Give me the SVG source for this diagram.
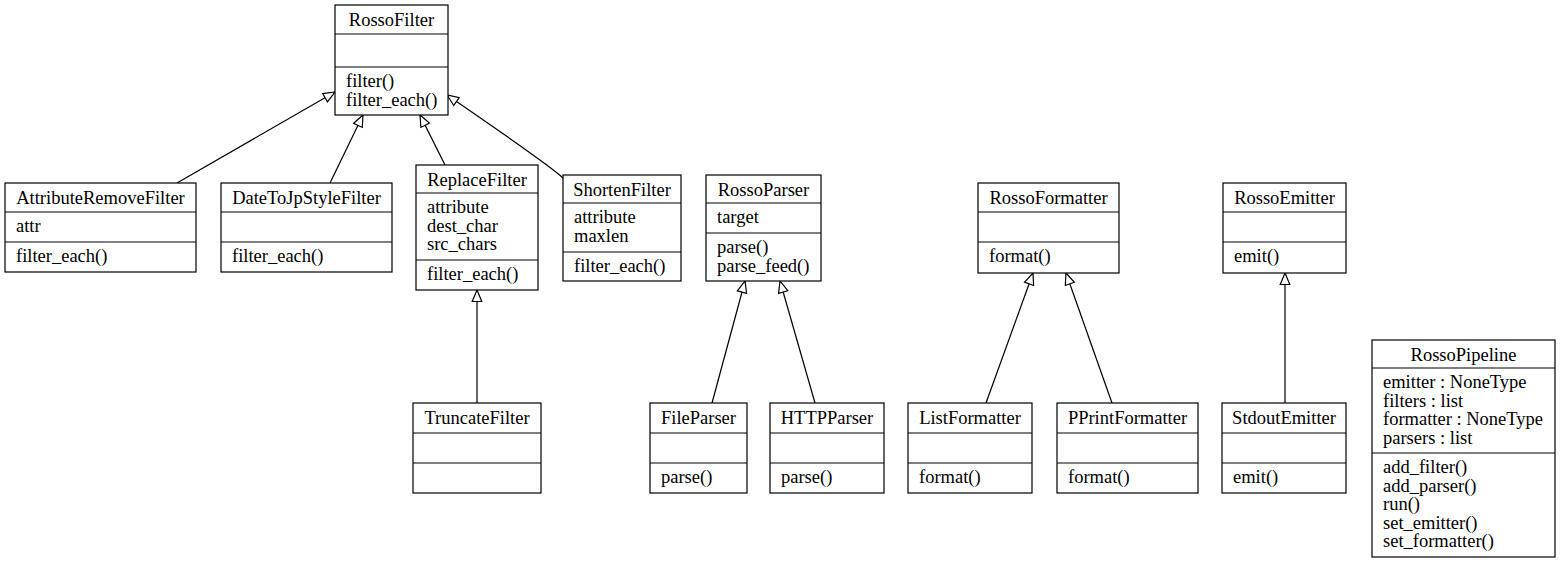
<svg xmlns="http://www.w3.org/2000/svg" width="1560" height="564" viewBox="0 0 1560 564">
<style>
  .box { fill: #ffffff; stroke: #000000; stroke-width: 1.2; }
  .sep { stroke: #000000; stroke-width: 1.2; }
  text { font-family: "Liberation Serif", "Times New Roman", serif; font-size: 18.5px; fill: #000000; }
  .t { text-anchor: middle; }
  .edge { fill: none; stroke: #000000; stroke-width: 1.2; marker-end: url(#inh); }
</style>
<defs>
  <marker id="inh" viewBox="0 -7 14 14" refX="13" refY="0" markerWidth="14" markerHeight="14" markerUnits="userSpaceOnUse" orient="auto">
    <path d="M1.5,-4.8 L13,0 L1.5,4.8 Z" fill="#ffffff" stroke="#000000" stroke-width="1.2"/>
  </marker>
</defs>
<rect width="1560" height="564" fill="#ffffff"/>

<g id="edges">
  <path class="edge" d="M177,183 L335,92"/>
  <path class="edge" d="M330,183 L363,115"/>
  <path class="edge" d="M445,165 L420,115"/>
  <path class="edge" d="M563,178 C553,168 520,145 447,95"/>
  <path class="edge" d="M477,403 L477,290"/>
  <path class="edge" d="M712,403 L745,281"/>
  <path class="edge" d="M815,403 L780,281"/>
  <path class="edge" d="M986,403 L1033,273"/>
  <path class="edge" d="M1112,403 L1066,273"/>
  <path class="edge" d="M1285,403 L1285,273"/>
</g>

<g id="RossoFilter">
  <rect class="box" x="335" y="5" width="113" height="110"/>
  <line class="sep" x1="335" y1="34" x2="448" y2="34"/>
  <line class="sep" x1="335" y1="67" x2="448" y2="67"/>
  <text class="t" x="391.5" y="26">RossoFilter</text>
  <text x="346" y="87">filter()</text>
  <text x="346" y="105.5">filter_each()</text>
</g>

<g id="AttributeRemoveFilter">
  <rect class="box" x="5" y="183" width="191" height="89"/>
  <line class="sep" x1="5" y1="212" x2="196" y2="212"/>
  <line class="sep" x1="5" y1="242" x2="196" y2="242"/>
  <text class="t" x="100.5" y="204">AttributeRemoveFilter</text>
  <text x="16" y="232">attr</text>
  <text x="16" y="262">filter_each()</text>
</g>

<g id="DateToJpStyleFilter">
  <rect class="box" x="221" y="183" width="171" height="89"/>
  <line class="sep" x1="221" y1="212" x2="392" y2="212"/>
  <line class="sep" x1="221" y1="242" x2="392" y2="242"/>
  <text class="t" x="306.5" y="204">DateToJpStyleFilter</text>
  <text x="232" y="262">filter_each()</text>
</g>

<g id="ReplaceFilter">
  <rect class="box" x="416" y="165" width="122" height="125"/>
  <line class="sep" x1="416" y1="193" x2="538" y2="193"/>
  <line class="sep" x1="416" y1="260" x2="538" y2="260"/>
  <text class="t" x="477" y="186">ReplaceFilter</text>
  <text x="427" y="213">attribute</text>
  <text x="427" y="231.5">dest_char</text>
  <text x="427" y="250">src_chars</text>
  <text x="427" y="280">filter_each()</text>
</g>

<g id="ShortenFilter">
  <rect class="box" x="563" y="175" width="118" height="106"/>
  <line class="sep" x1="563" y1="203" x2="681" y2="203"/>
  <line class="sep" x1="563" y1="252" x2="681" y2="252"/>
  <text class="t" x="622" y="196">ShortenFilter</text>
  <text x="574" y="223">attribute</text>
  <text x="574" y="241.5">maxlen</text>
  <text x="574" y="272">filter_each()</text>
</g>

<g id="RossoParser">
  <rect class="box" x="706" y="175" width="115" height="106"/>
  <line class="sep" x1="706" y1="203" x2="821" y2="203"/>
  <line class="sep" x1="706" y1="233" x2="821" y2="233"/>
  <text class="t" x="763.5" y="196">RossoParser</text>
  <text x="717" y="223">target</text>
  <text x="717" y="253">parse()</text>
  <text x="717" y="271.5">parse_feed()</text>
</g>

<g id="RossoFormatter">
  <rect class="box" x="978" y="183" width="141" height="90"/>
  <line class="sep" x1="978" y1="212" x2="1119" y2="212"/>
  <line class="sep" x1="978" y1="242" x2="1119" y2="242"/>
  <text class="t" x="1048.5" y="204">RossoFormatter</text>
  <text x="989" y="262">format()</text>
</g>

<g id="RossoEmitter">
  <rect class="box" x="1223" y="183" width="123" height="90"/>
  <line class="sep" x1="1223" y1="212" x2="1346" y2="212"/>
  <line class="sep" x1="1223" y1="242" x2="1346" y2="242"/>
  <text class="t" x="1284.5" y="204">RossoEmitter</text>
  <text x="1234" y="262">emit()</text>
</g>

<g id="TruncateFilter">
  <rect class="box" x="413" y="403" width="128" height="90"/>
  <line class="sep" x1="413" y1="433" x2="541" y2="433"/>
  <line class="sep" x1="413" y1="463" x2="541" y2="463"/>
  <text class="t" x="477" y="424">TruncateFilter</text>
</g>

<g id="FileParser">
  <rect class="box" x="650" y="403" width="97" height="90"/>
  <line class="sep" x1="650" y1="433" x2="747" y2="433"/>
  <line class="sep" x1="650" y1="463" x2="747" y2="463"/>
  <text class="t" x="698.5" y="424">FileParser</text>
  <text x="661" y="483">parse()</text>
</g>

<g id="HTTPParser">
  <rect class="box" x="770" y="403" width="114" height="90"/>
  <line class="sep" x1="770" y1="433" x2="884" y2="433"/>
  <line class="sep" x1="770" y1="463" x2="884" y2="463"/>
  <text class="t" x="827" y="424">HTTPParser</text>
  <text x="781" y="483">parse()</text>
</g>

<g id="ListFormatter">
  <rect class="box" x="908" y="403" width="124" height="90"/>
  <line class="sep" x1="908" y1="433" x2="1032" y2="433"/>
  <line class="sep" x1="908" y1="463" x2="1032" y2="463"/>
  <text class="t" x="970" y="424">ListFormatter</text>
  <text x="919" y="483">format()</text>
</g>

<g id="PPrintFormatter">
  <rect class="box" x="1057" y="403" width="141" height="90"/>
  <line class="sep" x1="1057" y1="433" x2="1198" y2="433"/>
  <line class="sep" x1="1057" y1="463" x2="1198" y2="463"/>
  <text class="t" x="1127.5" y="424">PPrintFormatter</text>
  <text x="1068" y="483">format()</text>
</g>

<g id="StdoutEmitter">
  <rect class="box" x="1222" y="403" width="124" height="90"/>
  <line class="sep" x1="1222" y1="433" x2="1346" y2="433"/>
  <line class="sep" x1="1222" y1="463" x2="1346" y2="463"/>
  <text class="t" x="1284" y="424">StdoutEmitter</text>
  <text x="1233" y="483">emit()</text>
</g>

<g id="RossoPipeline">
  <rect class="box" x="1372" y="340" width="183" height="217"/>
  <line class="sep" x1="1372" y1="368" x2="1555" y2="368"/>
  <line class="sep" x1="1372" y1="453" x2="1555" y2="453"/>
  <text class="t" x="1463.5" y="361">RossoPipeline</text>
  <text x="1383" y="388">emitter : NoneType</text>
  <text x="1383" y="406.5">filters : list</text>
  <text x="1383" y="425">formatter : NoneType</text>
  <text x="1383" y="443.5">parsers : list</text>
  <text x="1383" y="473">add_filter()</text>
  <text x="1383" y="491.5">add_parser()</text>
  <text x="1383" y="510">run()</text>
  <text x="1383" y="528.5">set_emitter()</text>
  <text x="1383" y="547">set_formatter()</text>
</g>
</svg>
